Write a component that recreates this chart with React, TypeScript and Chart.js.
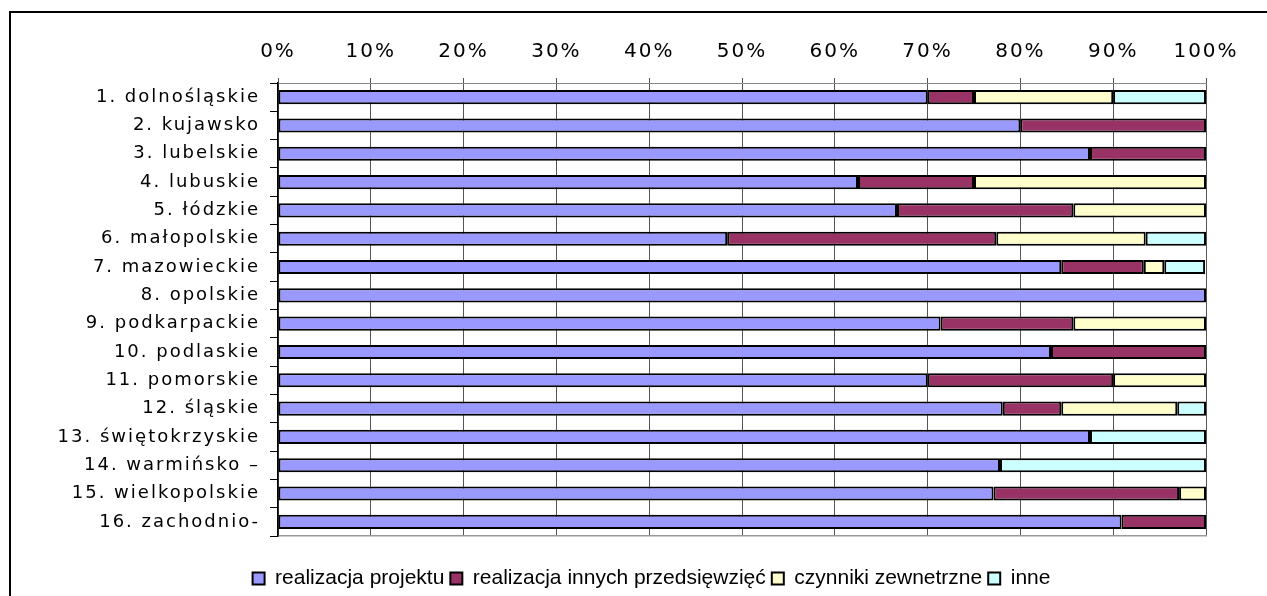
import React, { useEffect, useRef } from 'react';
import { Chart, registerables } from 'chart.js';

Chart.register(...registerables);

const categories: string[] = [
  '1. dolnośląskie',
  '2. kujawsko',
  '3. lubelskie',
  '4. lubuskie',
  '5. łódzkie',
  '6. małopolskie',
  '7. mazowieckie',
  '8. opolskie',
  '9. podkarpackie',
  '10. podlaskie',
  '11. pomorskie',
  '12. śląskie',
  '13. świętokrzyskie',
  '14. warmińsko –',
  '15. wielkopolskie',
  '16. zachodnio-',
];

const seriesNames: string[] = [
  'realizacja projektu',
  'realizacja innych przedsięwzięć',
  'czynniki zewnetrzne',
  'inne',
];

const realizacjaProjektu: number[] = [70, 80, 87.5, 62.5, 66.7, 48.4, 84.4, 100, 71.4, 83.3, 70, 78.1, 87.5, 77.8, 77.1, 90.9];
const realizacjaInnych: number[] = [5, 20, 12.5, 12.5, 19.0, 29.0, 8.9, 0, 14.3, 16.7, 20, 6.3, 0, 0, 20.0, 9.1];
const czynnikiZewnetrzne: number[] = [15, 0, 0, 25, 14.3, 16.1, 2.2, 0, 14.3, 0, 10, 12.5, 0, 0, 2.9, 0];
const inne: number[] = [10, 0, 0, 0, 0, 6.5, 4.4, 0, 0, 0, 0, 3.1, 12.5, 22.2, 0, 0];

const xTickValues: number[] = [0, 10, 20, 30, 40, 50, 60, 70, 80, 90, 100];
const xTickLabels: string[] = ['0%', '10%', '20%', '30%', '40%', '50%', '60%', '70%', '80%', '90%', '100%'];

const colors = ['#9999FF', '#993366', '#FFFFCC', '#CCFFFF'];

const SPACING = '2px';

function patchLegend(chart: any) {
  const lg = chart.legend;
  if (!lg || lg.__patched) return;
  lg.__patched = true;
  const wrap = (name: string) => {
    const orig = lg[name].bind(lg);
    lg[name] = (...a: any[]) => {
      const c: any = chart.ctx;
      const prev = c.letterSpacing;
      c.letterSpacing = '0px';
      try {
        return orig(...a);
      } finally {
        c.letterSpacing = prev;
      }
    };
  };
  wrap('fit');
  wrap('draw');
}

const spacingPlugin = {
  id: 'letterSpacingPlugin',
  beforeLayout(chart: any) {
    (chart.ctx as any).letterSpacing = SPACING;
    patchLegend(chart);
  },
  afterLayout(chart: any) {
    // centre the legend across the whole frame rather than the padded area
    const lg = chart.legend;
    if (lg) {
      lg.left = 25;
      lg.right = chart.width;
      lg.width = lg.right - lg.left;
    }
  },
  beforeDraw(chart: any) {
    (chart.ctx as any).letterSpacing = SPACING;
    patchLegend(chart);
  },
};

export default function App() {
  const canvasRef = useRef<HTMLCanvasElement | null>(null);

  useEffect(() => {
    document.documentElement.style.overflow = 'hidden';
    const canvas = canvasRef.current;
    if (!canvas) return;
    const seriesData = [realizacjaProjektu, realizacjaInnych, czynnikiZewnetrzne, inne];
    const chart = new Chart(canvas, {
      type: 'bar',
      data: {
        labels: categories,
        datasets: seriesData.map((d, i) => ({
          label: seriesNames[i],
          data: d,
          backgroundColor: colors[i],
          borderColor: '#000000',
          borderWidth: 2,
          borderSkipped: false,
          categoryPercentage: 1,
          barPercentage: 0.5,
        })),
      },
      options: {
        indexAxis: 'y',
        animation: false,
        responsive: false,
        maintainAspectRatio: false,
        layout: { padding: { top: 0, right: 61, bottom: 0, left: 0 } },
        plugins: {
          title: { display: false },
          tooltip: { enabled: false },
          legend: {
            display: true,
            position: 'bottom',
            labels: {
              color: '#000',
              font: { family: 'Liberation Sans', size: 21 },
              boxWidth: 12,
              boxHeight: 12,
              padding: 6,
            },
          },
        },
        scales: {
          x: {
            type: 'linear',
            position: 'top',
            stacked: true,
            min: 0,
            max: 100,
            afterBuildTicks: (s: any) => {
              s.ticks = xTickValues.map((v) => ({ value: v }));
            },
            ticks: {
              color: '#000',
              font: { family: 'DejaVu Sans', size: 20 },
              padding: 14,
              maxRotation: 0,
              autoSkip: false,
              callback: (v: any) => xTickLabels[xTickValues.indexOf(Number(v))] ?? '',
            },
            grid: { color: '#555555', lineWidth: 1, tickLength: 5, drawTicks: true },
            border: { display: true, color: '#888888', width: 1 },
            afterFit: (s: any) => {
              s.height = 70;
            },
          },
          x2: {
            type: 'linear',
            axis: 'x',
            position: 'bottom',
            min: 0,
            max: 100,
            ticks: { display: false },
            grid: { display: false, drawTicks: false },
            border: { display: true, color: '#999999', width: 1.5 },
            afterFit: (s: any) => {
              s.height = 26;
            },
          },
          y: {
            stacked: true,
            ticks: {
              color: '#000',
              font: { family: 'DejaVu Sans', size: 18 },
              padding: 10,
              autoSkip: false,
            },
            grid: { drawOnChartArea: false, color: '#000000', tickLength: 8, lineWidth: 1 },
            border: { display: true, color: '#000000', width: 1.5 },
            afterFit: (s: any) => {
              s.width = 267;
            },
          },
        },
      } as any,
      plugins: [spacingPlugin as any],
    });
    return () => chart.destroy();
  }, []);

  return (
    <div
      style={{
        position: 'fixed',
        left: 9,
        top: 11,
        width: 1256,
        height: 583,
        overflow: 'hidden',
        borderLeft: '2px solid #000',
        borderTop: '2px solid #000',
        background: '#fff',
      }}
    >
      <canvas ref={canvasRef} width={1256} height={586} style={{ display: 'block' }} />
    </div>
  );
}
